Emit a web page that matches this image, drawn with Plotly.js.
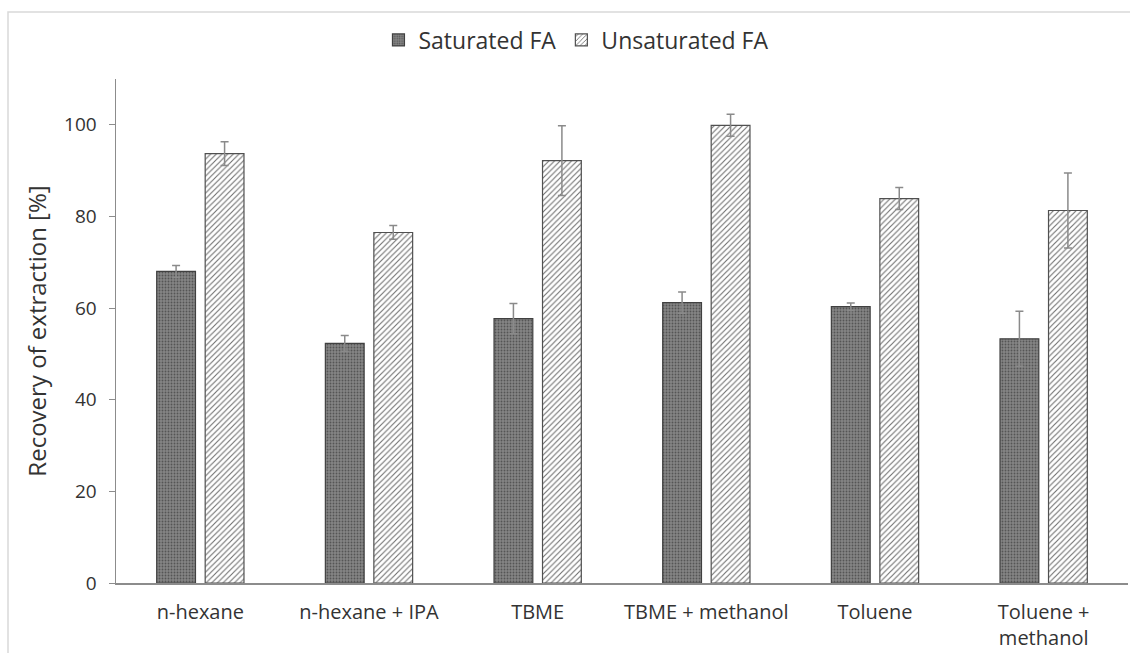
<!DOCTYPE html>
<html>
<head>
<meta charset="utf-8">
<script src="https://cdn.plot.ly/plotly-3.0.1.min.js"></script>
<style>
  html, body { margin: 0; padding: 0; background: #ffffff; }
  #chart { width: 1130px; height: 653px; }
</style>
</head>
<body>
<div id="chart"></div>
<script>
// Extraction solvents (x categories)
const solvents = ["n-hexane", "n-hexane + IPA", "TBME", "TBME + methanol", "Toluene", "Toluene +<br>methanol"];

// Recovery of extraction [%] and standard deviations
const saturatedFA = [68.0, 52.3, 57.7, 61.2, 60.3, 53.3];
const saturatedErr = [1.3, 1.7, 3.3, 2.3, 0.8, 6.0];
const unsaturatedFA = [93.7, 76.5, 92.2, 99.9, 83.9, 81.3];
const unsaturatedErr = [2.6, 1.5, 7.6, 2.4, 2.4, 8.2];

const textColor = "#333333";
const fontFamily = "'Open Sans', 'Noto Sans', sans-serif";

const traces = [
  {
    type: "bar",
    name: "Saturated FA",
    x: solvents,
    y: saturatedFA,
    error_y: { type: "data", array: saturatedErr, visible: true, color: "#8a8a8a", thickness: 1.5, width: 4 },
    marker: {
      color: "#7a7a7a",
      line: { color: "#404040", width: 1.2 },
      pattern: { shape: ".", fgcolor: "#555555", bgcolor: "#858585", size: 3, solidity: 0.3 }
    }
  },
  {
    type: "bar",
    name: "Unsaturated FA",
    x: solvents,
    y: unsaturatedFA,
    error_y: { type: "data", array: unsaturatedErr, visible: true, color: "#8a8a8a", thickness: 1.5, width: 4 },
    marker: {
      color: "#ffffff",
      line: { color: "#505050", width: 1.2 },
      pattern: { shape: "/", fgcolor: "#707070", bgcolor: "#ffffff", size: 4, solidity: 0.28 }
    }
  }
];

const layout = {
  width: 1130,
  height: 653,
  margin: { l: 116, r: 2, t: 79, b: 70 },
  paper_bgcolor: "#ffffff",
  plot_bgcolor: "#ffffff",
  font: { family: fontFamily, color: textColor, size: 18 },
  barmode: "group",
  bargap: 0.425,
  bargroupgap: 0.2,
  showlegend: true,
  legend: {
    orientation: "h",
    x: 0.455, xanchor: "center",
    y: (583 - 40) / 504, yanchor: "middle",
    bgcolor: "rgba(255,255,255,0)",
    font: { size: 23, color: textColor, family: fontFamily },
    itemwidth: 30,
    traceorder: "normal"
  },
  xaxis: {
    type: "category",
    showline: true,
    linecolor: "#8c8c8c",
    linewidth: 1.5,
    showgrid: false,
    ticks: "",
    ticklabelstandoff: 10,
    tickfont: { size: 20, color: textColor, family: fontFamily },
    fixedrange: true
  },
  yaxis: {
    range: [0, 110],
    tickvals: [0, 20, 40, 60, 80, 100],
    showline: true,
    linecolor: "#8c8c8c",
    linewidth: 1.5,
    showgrid: false,
    zeroline: false,
    ticks: "outside",
    ticklen: 6,
    tickcolor: "#8c8c8c",
    ticklabelstandoff: 8,
    tickfont: { size: 19, color: textColor, family: fontFamily },
    title: { text: "Recovery of extraction [%]", font: { size: 24, color: textColor, family: fontFamily }, standoff: 10 },
    fixedrange: true
  },
  shapes: [
    {
      type: "rect", xref: "paper", yref: "paper",
      x0: (8 - 116) / 1012, x1: (1140 - 116) / 1012,
      y0: -0.2, y1: (583 - 12) / 504,
      line: { color: "#d9d9d9", width: 1.5 },
      fillcolor: "rgba(0,0,0,0)",
      layer: "below"
    }
  ]
};

Plotly.newPlot("chart", traces, layout, { displayModeBar: false, staticPlot: true });
</script>
</body>
</html>
